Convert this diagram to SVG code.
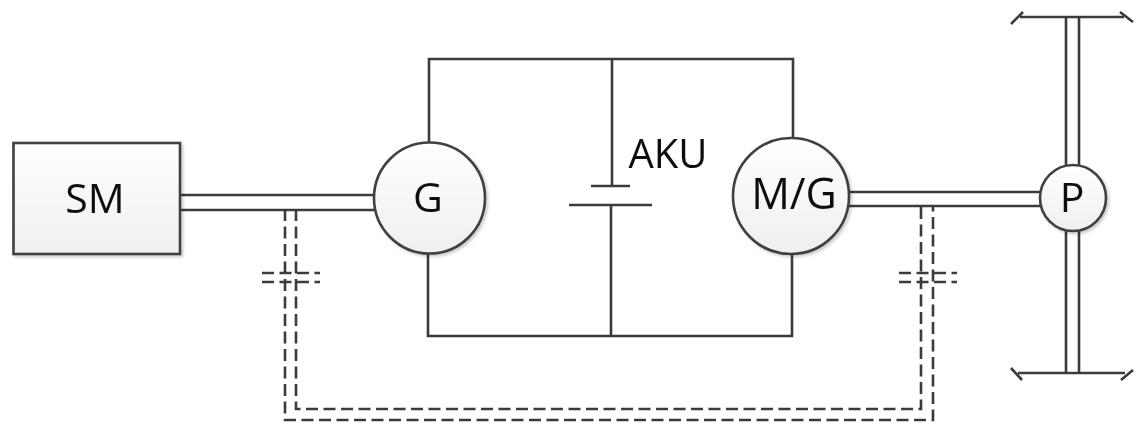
<svg xmlns="http://www.w3.org/2000/svg" width="1138" height="424" viewBox="0 0 1138 424">
<defs>
<linearGradient id="g" x1="0" y1="0" x2="0" y2="1"><stop offset="0" stop-color="#ffffff"/><stop offset="1" stop-color="#efefef"/></linearGradient>
<filter id="s" x="-10%" y="-10%" width="125%" height="125%"><feGaussianBlur stdDeviation="0.4" result="b"/><feOffset in="SourceAlpha" dx="1.5" dy="1.5"/><feGaussianBlur stdDeviation="1.5"/><feComponentTransfer><feFuncA type="linear" slope="0.2"/></feComponentTransfer><feMerge><feMergeNode/><feMergeNode in="b"/></feMerge></filter>
<filter id="b" x="-2%" y="-2%" width="104%" height="104%"><feGaussianBlur stdDeviation="0.4"/></filter>
</defs>
<style>
.l{fill:none;stroke:#3a3a3a;stroke-width:2.6}
.d{fill:none;stroke:#3a3a3a;stroke-width:2.6;stroke-dasharray:12 5.5}
.n{fill:url(#g);stroke:#404040;stroke-width:2.6}
text{font-family:"Open Sans","Noto Sans",sans-serif;fill:#111;text-anchor:middle}
</style>
<rect width="1138" height="424" fill="#fff"/>
<g id="connectors" filter="url(#b)">
<path class="l" d="M429 143V59H793V137M428 253V336H792V254M612 59V186M611 205V336"/>
<path class="l" d="M591 186H630M569 205H652"/>
<path class="l" d="M180 195H375M180 210H375M849 192H1040M849 206H1040"/>
<path class="l" d="M1066 17V168M1079 17V168M1066 229V373M1079 229V373"/>
<path class="l" d="M1020 17H1124M1011 24L1023 12M1120 12L1133 22M1018 373H1125M1011 368L1022 380M1133 370L1121 380"/>
<path class="d" d="M285 209V420H933V207"/>
<path class="d" d="M296 209V409H921V207"/>
<path class="d" d="M262 273H320M262 282H320M899 273H957M899 282H957"/>
</g>
<g id="SM" filter="url(#s)"><rect class="n" x="13.500" y="143" width="166.500" height="111" stroke-width="3"/><text x="95" y="213" font-size="41">SM</text></g>
<g id="G" filter="url(#s)"><circle class="n" cx="429.500" cy="198" r="55.500"/><text x="428" y="212" font-size="41">G</text></g>
<g id="MG" filter="url(#s)"><circle class="n" cx="791" cy="196" r="58"/><text x="794" y="209" font-size="43">M/G</text></g>
<g id="P" filter="url(#s)"><circle class="n" cx="1073" cy="198" r="33"/><text x="1072" y="212" font-size="41">P</text></g>
<g id="AKU" filter="url(#b)"><text x="668" y="168" font-size="40">AKU</text></g>
</svg>
